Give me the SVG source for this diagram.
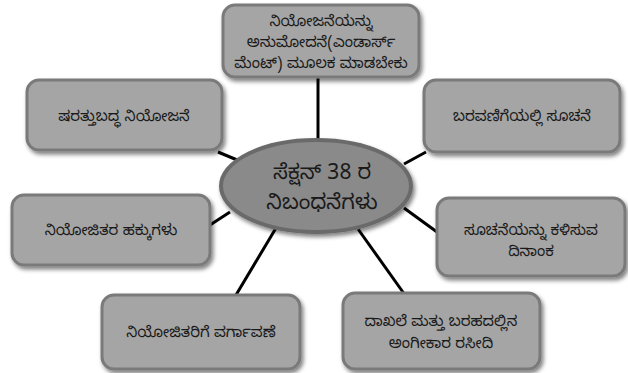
<svg xmlns="http://www.w3.org/2000/svg" width="628" height="373" viewBox="0 0 628 373">
<defs>
<filter id="sh" x="-10%" y="-10%" width="125%" height="130%">
<feGaussianBlur in="SourceAlpha" stdDeviation="2"/>
<feOffset dx="2" dy="3" result="b"/>
<feComponentTransfer><feFuncA type="linear" slope="0.5"/></feComponentTransfer>
<feMerge><feMergeNode/><feMergeNode in="SourceGraphic"/></feMerge>
</filter>
</defs>
<style>
.box{fill:#a5a5a5;stroke:#7a7a7a;stroke-width:3;filter:url(#sh)}
.ell{fill:#8a8a8a;stroke:#6a6a6a;stroke-width:4;filter:url(#sh)}
.c{stroke:#000;stroke-width:3;fill:none}
text{font-family:"Noto Sans Kannada","Noto Sans","DejaVu Sans",sans-serif;font-size:15px;fill:#1a1a1a;text-anchor:middle}
.big{font-size:21px}
</style>
<g id="connectors">
<line class="c" x1="318" y1="78" x2="318" y2="143"/>
<line class="c" x1="218" y1="152" x2="242" y2="162"/>
<line class="c" x1="404" y1="164" x2="426" y2="152"/>
<line class="c" x1="210" y1="225" x2="230" y2="212"/>
<line class="c" x1="404" y1="208" x2="437" y2="232"/>
<line class="c" x1="276" y1="228" x2="236" y2="295"/>
<line class="c" x1="358" y1="229" x2="405" y2="295"/>
</g>
<g id="n_top">
<rect class="box" x="223" y="5" width="196" height="72" rx="12"/>
<text x="321" y="26">ನಿಯೋಜನೆಯನ್ನು</text>
<text x="321" y="47">ಅನುಮೋದನೆ(ಎಂಡಾರ್ಸ್</text>
<text x="321" y="68">ಮೆಂಟ್) ಮೂಲಕ ಮಾಡಬೇಕು</text>
</g>
<g id="n_tl">
<rect class="box" x="27" y="80" width="195" height="70" rx="12"/>
<text x="124" y="121">ಷರತ್ತುಬದ್ಧ ನಿಯೋಜನೆ</text>
</g>
<g id="n_tr">
<rect class="box" x="424" y="80" width="196" height="72" rx="12"/>
<text x="522" y="121">ಬರವಣಿಗೆಯಲ್ಲಿ ಸೂಚನೆ</text>
</g>
<g id="n_l">
<rect class="box" x="12" y="195" width="198" height="70" rx="12"/>
<text x="111" y="235">ನಿಯೋಜಿತರ ಹಕ್ಕುಗಳು</text>
</g>
<g id="n_r">
<rect class="box" x="437" y="198" width="188" height="78" rx="12"/>
<text x="531" y="235">ಸೂಚನೆಯನ್ನು ಕಳಿಸುವ</text>
<text x="531" y="256">ದಿನಾಂಕ</text>
</g>
<g id="n_bl">
<rect class="box" x="102" y="295" width="198" height="74" rx="12"/>
<text x="201" y="337">ನಿಯೋಜಿತರಿಗೆ ವರ್ಗಾವಣೆ</text>
</g>
<g id="n_br">
<rect class="box" x="343" y="293" width="197" height="76" rx="12"/>
<text x="441" y="326">ದಾಖಲೆ ಮತ್ತು ಬರಹದಲ್ಲಿನ</text>
<text x="441" y="348">ಅಂಗೀಕಾರ ರಸೀದಿ</text>
</g>
<g id="n_center">
<ellipse class="ell" cx="316" cy="186" rx="95" ry="46"/>
<text class="big" x="322" y="179">ಸೆಕ್ಷನ್ 38 ರ</text>
<text class="big" x="322" y="209">ನಿಬಂಧನೆಗಳು</text>
</g>
</svg>
